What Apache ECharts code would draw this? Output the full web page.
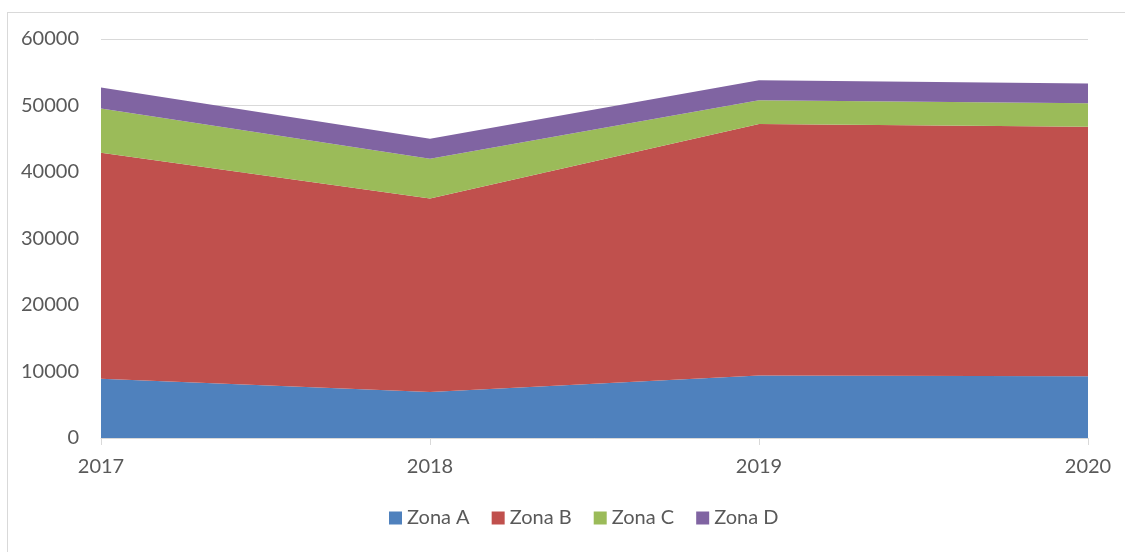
<!DOCTYPE html>
<html>
<head>
<meta charset="utf-8">
<script src="https://cdn.jsdelivr.net/npm/echarts@6/dist/echarts.min.js"></script>
<style>
  html, body { margin: 0; padding: 0; background: #fff; }
  #frame { position: absolute; left: 7px; top: 12px; width: 1130px; height: 560px; border: 1px solid #d9d9d9; }
  #chart { position: absolute; left: 0; top: 0; width: 1125px; height: 552px; }
</style>
</head>
<body>
<div id="frame"></div>
<div id="chart"></div>
<script>
// dati
const years = ["2017", "2018", "2019", "2020"];
const zonaA = [8900, 6900, 9400, 9300];
const zonaB = [34000, 29100, 37800, 37500];
const zonaC = [6650, 6000, 3600, 3550];
const zonaD = [3150, 3000, 3000, 2950];

const colors = ["#4f81bd", "#c0504d", "#9bbb59", "#8064a2"];
const font = "Lato, 'Open Sans', sans-serif";

function areaSeries(name, data) {
  return {
    name: name,
    type: "line",
    stack: "tot",
    data: data,
    symbol: "none",
    lineStyle: { width: 0 },
    areaStyle: { opacity: 1 },
  };
}

const chart = echarts.init(document.getElementById("chart"));
chart.setOption({
  animation: false,
  color: colors,
  grid: { left: 101, right: 37, top: 39, bottom: 114 },
  legend: {
    bottom: 19,
    left: 384,
    itemWidth: 13,
    itemHeight: 13,
    itemGap: 22,
    icon: "rect",
    textStyle: { fontFamily: font, fontSize: 20, color: "#595959" },
    data: ["Zona A", "Zona B", "Zona C", "Zona D"],
  },
  xAxis: {
    type: "category",
    data: years,
    boundaryGap: false,
    axisLine: { lineStyle: { color: "#d9d9d9", width: 1 } },
    axisTick: { show: true, length: 7, lineStyle: { color: "#d9d9d9" } },
    axisLabel: { fontFamily: font, fontSize: 20, color: "#595959", margin: 19 },
  },
  yAxis: {
    type: "value",
    min: 0,
    max: 60000,
    interval: 10000,
    axisLine: { show: false },
    axisTick: { show: false },
    axisLabel: {
      fontFamily: font, fontSize: 20, color: "#595959", margin: 22,
      formatter: (v) => String(v),
    },
    splitLine: { lineStyle: { color: "#d9d9d9", width: 1 } },
  },
  series: [
    areaSeries("Zona A", zonaA),
    areaSeries("Zona B", zonaB),
    areaSeries("Zona C", zonaC),
    areaSeries("Zona D", zonaD),
  ],
});
</script>
</body>
</html>
